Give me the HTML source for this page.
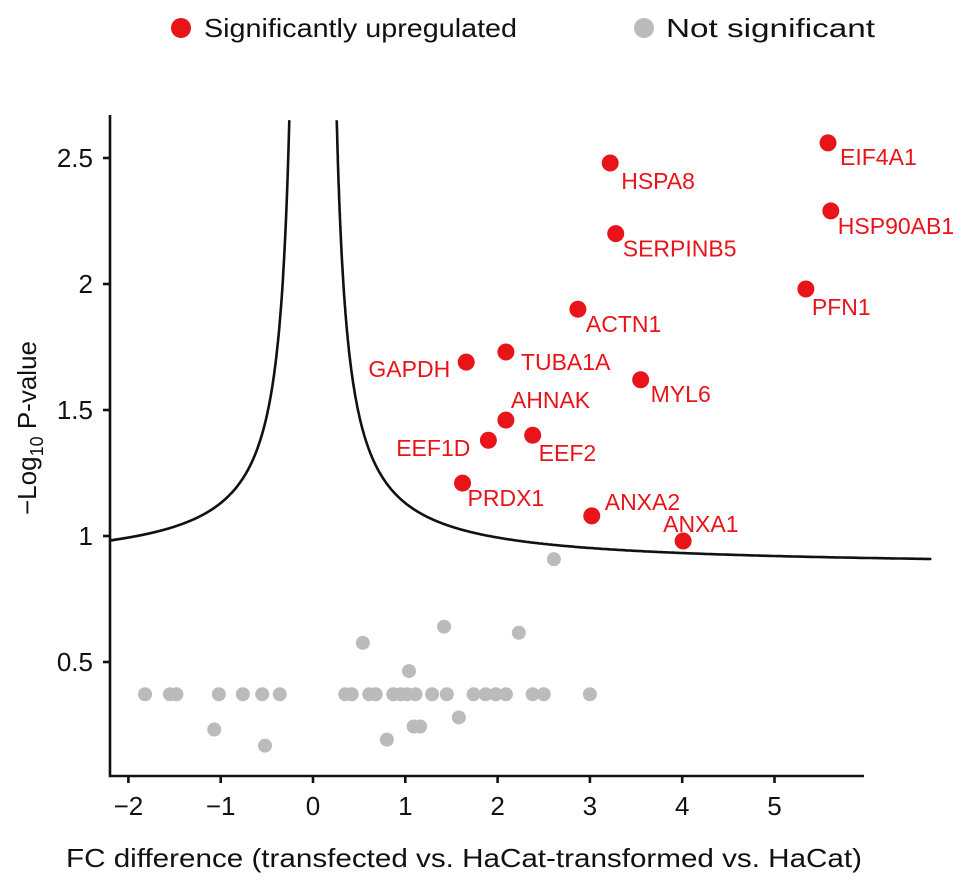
<!DOCTYPE html>
<html><head><meta charset="utf-8"><style>
body{margin:0;background:#fff;}
svg{display:block;font-family:"Liberation Sans",Arial,sans-serif;}
</style></head><body>
<svg id="chart" width="969" height="884">
<g>
<circle cx="181" cy="28" r="10" fill="#e8141a"/>
<text x="204" y="37" font-size="26" textLength="313" lengthAdjust="spacingAndGlyphs" fill="#111">Significantly upregulated</text>
<circle cx="644" cy="28" r="10" fill="#bbb"/>
<text x="666" y="37" font-size="26" textLength="209" lengthAdjust="spacingAndGlyphs" fill="#111">Not significant</text>
</g>
<g id="plot"></g>
</svg>
<script>
const grayX=[-1.82,-1.55,-1.48,-1.02,-0.76,-0.55,-0.36,0.35,0.42,0.61,0.68,0.87,0.95,1.02,1.11,1.29,1.45,1.74,1.87,1.98,2.09,2.38,2.50,3.00,2.61,1.42,2.23,0.54,1.04,1.58,1.09,1.16,-1.07,0.80,-0.52];
const grayY=[0.372,0.372,0.372,0.372,0.372,0.372,0.372,0.372,0.372,0.372,0.372,0.372,0.372,0.372,0.372,0.372,0.372,0.372,0.372,0.372,0.372,0.372,0.372,0.372,0.908,0.64,0.616,0.576,0.464,0.28,0.244,0.244,0.232,0.192,0.168];
const genes=["EIF4A1","HSPA8","HSP90AB1","SERPINB5","PFN1","ACTN1","GAPDH","TUBA1A","MYL6","AHNAK","EEF1D","EEF2","PRDX1","ANXA2","ANXA1"];
const redX=[5.58,3.22,5.61,3.28,5.34,2.87,1.66,2.09,3.55,2.09,1.90,2.38,1.62,3.02,4.01];
const redY=[2.56,2.48,2.29,2.20,1.98,1.90,1.69,1.73,1.62,1.46,1.38,1.40,1.21,1.08,0.98];
const xTicks=[-2,-1,0,1,2,3,4,5];
const yTicks=[0.5,1,1.5,2,2.5];
// label placement (style)
const lblDx=[12,11,7,7,6,8,-16,15,10,5,-18,6,5,13,-20];
const lblDy=[22,26,23,23,26,23,15,18,22,-12,16,26,23,-6,-9];
const lblEnd=[0,0,0,0,0,0,1,0,0,0,1,0,0,0,0];

const NS="http://www.w3.org/2000/svg";
const g=document.getElementById('plot');
const X=v=>313+92.3*v, Y=v=>536-252*(v-1);
function mk(t,a){const e=document.createElementNS(NS,t);for(const k in a)e.setAttribute(k,a[k]);g.appendChild(e);return e;}
const CA=0.875,CB=0.222,C0=0.132;
function curvePath(x0,x1,sign){let d="";const n=600;for(let i=0;i<=n;i++){const t=i/n;const x=x0+(x1-x0)*(sign>0?t*t:1-(1-t)*(1-t));let y=CA+CB/(sign*x-C0);if(y>2.65)y=2.65;d+=(i?"L":"M")+X(x).toFixed(1)+","+Y(y).toFixed(1);}return d;}
const xs=C0+CB/(2.65-CA);
let c1=mk('path',{d:curvePath(xs,6.7,1),fill:'none',stroke:'#111','stroke-width':2.6});


let c2=mk('path',{d:curvePath(-xs,-2.2,-1),fill:'none',stroke:'#111','stroke-width':2.6});


let ax=mk('path',{d:'M110,115 L110,776 L864,776',fill:'none',stroke:'#111','stroke-width':2.6});


xTicks.forEach(t=>{
 const tk=mk('line',{x1:X(t),x2:X(t),y1:776,y2:783,stroke:'#111','stroke-width':2.6});
 
 
 const tx=mk('text',{x:X(t),y:815,'font-size':26,'text-anchor':'middle',fill:'#111'});
 tx.textContent=(t<0?'\u2212'+(-t):t);
 
 
});
yTicks.forEach(t=>{
 const tk=mk('line',{x1:103,x2:110,y1:Y(t),y2:Y(t),stroke:'#111','stroke-width':2.6});
 
 
 const tx=mk('text',{x:93,y:Y(t)+9,'font-size':26,'text-anchor':'end',fill:'#111'});
 tx.textContent=t;
 
 
});
grayX.forEach((v,i)=>{
 const p=mk('circle',{cx:X(v),cy:Y(grayY[i]),r:7,fill:'#bbb'});
 
 
});
redX.forEach((v,i)=>{
 const px=X(v),py=Y(redY[i]);
 const p=mk('circle',{cx:px,cy:py,r:8.5,fill:'#e8141a'});
 
 
 const t=mk('text',{x:px+lblDx[i],y:py+lblDy[i],'font-size':23,fill:'#e8141a','text-anchor':lblEnd[i]?'end':'start'});
 t.textContent=genes[i];
 
 
});
let xt=mk('text',{x:66,y:867,'font-size':26,textLength:796,lengthAdjust:'spacingAndGlyphs',fill:'#111'});
xt.textContent='FC difference (transfected vs. HaCat-transformed vs. HaCat)';


let yt=mk('text',{x:0,y:0,'font-size':26,'text-anchor':'middle',fill:'#111',transform:'translate(36,428) rotate(-90)'});
yt.innerHTML='\u2212Log<tspan font-size="18" dy="7">10</tspan><tspan dy="-7"> P-value</tspan>';


</script>
</body></html>
